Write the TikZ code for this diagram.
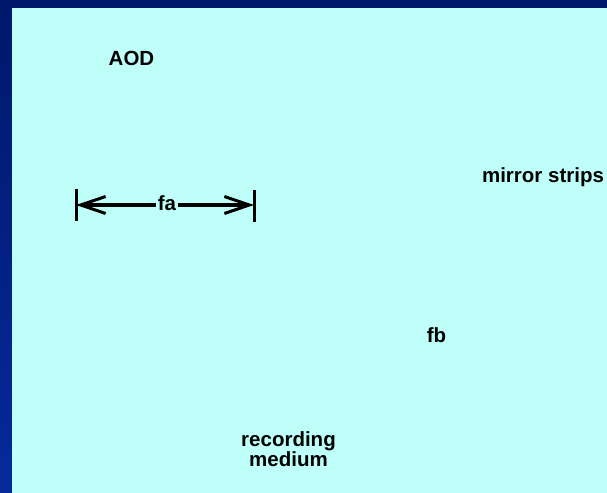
\documentclass[tikz,border=0pt]{standalone}
\usepackage{fontspec}
\setmainfont{Liberation Sans}
\usetikzlibrary{arrows.meta}
\definecolor{navytop}{RGB}{0,24,106}
\definecolor{navybot}{RGB}{6,42,156}
\definecolor{panel}{RGB}{190,255,250}
\begin{document}
\begin{tikzpicture}[x=1bp,y=-1bp,
  label/.style={font=\bfseries\fontsize{20.5bp}{20bp}\selectfont, inner sep=0pt, text=black},
  dimline/.style={line width=4bp, -{Straight Barb[length=25bp,width=17bp,line width=3bp]}},
  dimbar/.style={line width=3bp}]
  % slide background and panel
  \useasboundingbox (0,0) rectangle (607,493);
  \shade[top color=navytop, bottom color=navybot] (0,0) rectangle (607,493);
  \fill[panel] (12,8) rectangle (607,493);

  % labels
  \node[label, anchor=base] (aod) at (131.5,66) {AOD};
  \node[label, anchor=base] (mirror) at (543,183) {mirror strips};
  \node[label, anchor=base] (fb) at (436.5,342) {fb};
  \node[label, anchor=base, align=center] (rec) at (288.5,466) {recording\\medium};
  \node[label, anchor=base, inner xsep=2bp] (fa) at (167,211) {fa};

  % dimension marker for fa
  \coordinate (la) at (76,205);
  \coordinate (ra) at (254,205);
  \draw[dimbar] (76,189) -- (76,221);
  \draw[dimbar] (254,190) -- (254,222);
  \draw[dimline] (la -| fa.west) -- (la);
  \draw[dimline] (ra -| fa.east) -- (ra);
\end{tikzpicture}
\end{document}
